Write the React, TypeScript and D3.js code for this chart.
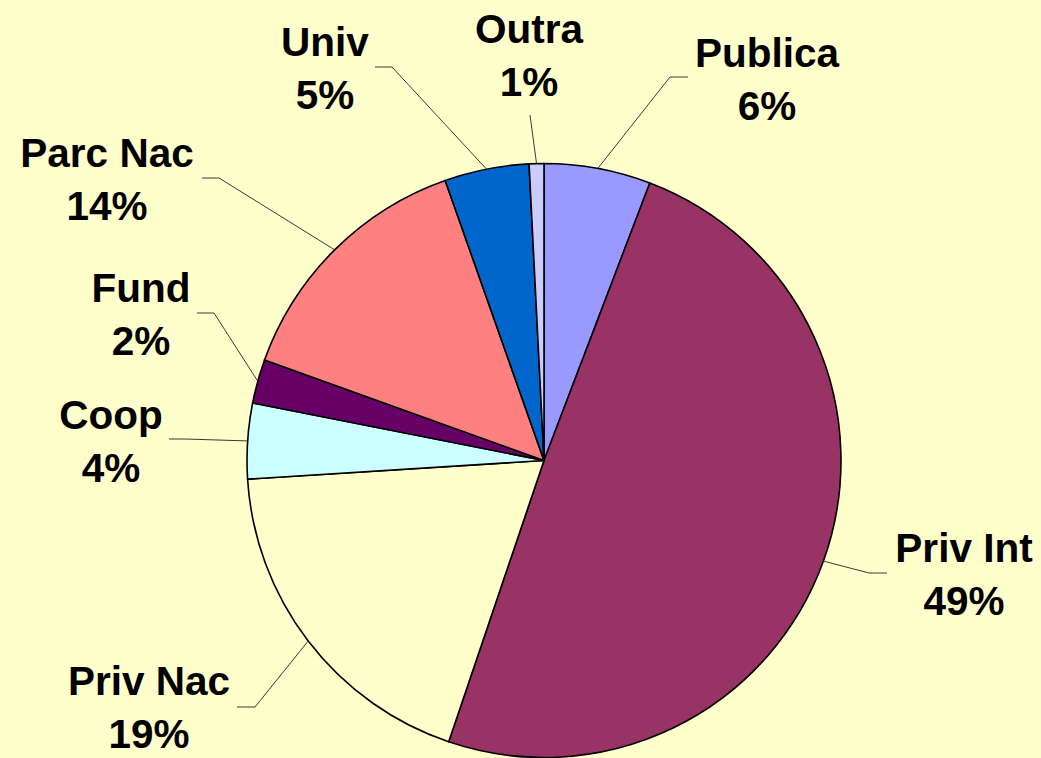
import React, { useEffect, useRef } from 'react'
import * as d3 from 'd3'

// slices, clockwise from 12 o'clock
const categories = ['Publica', 'Priv Int', 'Priv Nac', 'Coop', 'Fund', 'Parc Nac', 'Univ', 'Outra']
const shares = [5.8, 49.4, 18.8, 4.1, 2.4, 14.1, 4.6, 0.8]
const colors = ['#9999FF', '#993366', '#FFFFCC', '#CCFFFF', '#660066', '#FF8080', '#0066CC', '#CCCCFF']

// label layout: text centre x, first baseline y, leader elbow and end
const labelLayout = [
  { x: 767, y: 67, ex: 670, ey: 77, hx: 688 },
  { x: 964, y: 562, ex: 869, ey: 573, hx: 887 },
  { x: 149, y: 695, ex: 255, ey: 707, hx: 237 },
  { x: 111, y: 429, ex: 185, ey: 439, hx: 169 },
  { x: 141, y: 302, ex: 214, ey: 313, hx: 197 },
  { x: 107, y: 167, ex: 219, ey: 178, hx: 202 },
  { x: 325, y: 56, ex: 392, ey: 67, hx: 375 },
  { x: 529, y: 43, ex: 530, ey: 115, hx: 530 },
]

const W = 1041
const H = 758

export default function App() {
  const ref = useRef<SVGSVGElement>(null)

  useEffect(() => {
    document.body.style.margin = '0'
    document.body.style.background = '#FFFFCC'
    const svg = d3.select(ref.current)
    svg.selectAll('*').remove()

    const cx = 544
    const cy = 460.5
    const r = 297

    svg.append('rect').attr('width', W).attr('height', H).attr('fill', '#FFFFCC')

    const data = categories.map((c, i) => ({ name: c, value: shares[i], color: colors[i] }))
    const pie = d3.pie<any>().value(d => d.value).sort(null)
    const arcs = pie(data)
    const arc = d3.arc<any>().innerRadius(0).outerRadius(r)

    const g = svg.append('g').attr('transform', `translate(${cx},${cy})`)
    g.selectAll('path.slice')
      .data(arcs)
      .enter()
      .append('path')
      .attr('class', 'slice')
      .attr('d', arc)
      .attr('fill', d => d.data.color)
      .attr('stroke', '#000')
      .attr('stroke-width', 1.6)
      .attr('stroke-linejoin', 'round')

    // leader lines
    arcs.forEach((a, i) => {
      const L = labelLayout[i]
      const mid = (a.startAngle + a.endAngle) / 2
      const sx = cx + r * Math.sin(mid)
      const sy = cy - r * Math.cos(mid)
      svg.append('polyline')
        .attr('points', `${sx},${sy} ${L.ex},${L.ey} ${L.hx},${L.ey}`)
        .attr('fill', 'none')
        .attr('stroke', '#222')
        .attr('stroke-width', 0.9)
    })

    // labels
    arcs.forEach((a, i) => {
      const L = labelLayout[i]
      const t = svg.append('text')
        .attr('text-anchor', 'middle')
        .attr('font-family', '"Liberation Sans", Arial, sans-serif')
        .attr('font-weight', 'bold')
        .attr('font-size', 40.5)
        .attr('fill', '#000')
      t.append('tspan').attr('x', L.x).attr('y', L.y).text(a.data.name)
      t.append('tspan').attr('x', L.x).attr('y', L.y + 53).text(`${Math.round(a.data.value)}%`)
    })
  }, [])

  return (
    <svg ref={ref} width={W} height={H}
      style={{ display: 'block', position: 'absolute', left: 0, top: 0 }} />
  )
}
